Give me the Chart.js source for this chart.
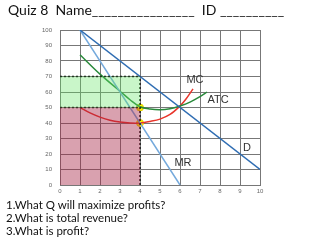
<!DOCTYPE html>
<html>
<head>
<meta charset="utf-8">
<script src="https://cdn.jsdelivr.net/npm/chart.js@4/dist/chart.umd.min.js"></script>
<style>
  html, body { margin: 0; padding: 0; background: #fff; }
  #wrap { position: relative; width: 320px; height: 240px; overflow: hidden; }
  #chart { position: absolute; left: 0; top: 0; }
  .title { position: absolute; left: 8px; top: 1px; font: 14px Lato, sans-serif; color: #111; white-space: pre; }
  .qs { position: absolute; left: 6px; top: 198px; font: 11.5px Lato, sans-serif; color: #111; line-height: 13px; }
</style>
</head>
<body>
<div id="wrap">
  <canvas id="chart" width="320" height="240"></canvas>
  <div class="title">Quiz 8  Name________________  ID __________</div>
  <div class="qs">1.What Q will maximize profits?<br>2.What is total revenue?<br>3.What is profit?</div>
</div>
<script>
// valores
const demandQ = [1, 10];
const demandP = [100, 10];
const mrQ = [1, 6];
const mrP = [100, 0];
const atcQ = [1, 2, 3, 3.5, 4, 4.5, 5, 5.5, 6, 6.5, 7, 7.35];
const atcP = [84, 71.5, 60.5, 55, 50.5, 49, 48.5, 49.2, 51, 53.5, 57, 60];
const mcQ = [1, 1.5, 2, 2.5, 3, 3.5, 4, 4.5, 5, 5.5, 6, 6.3, 6.65];
const mcP = [50, 46.5, 43.8, 41.8, 40.6, 40, 40, 41, 42.5, 45.5, 51, 55.5, 62];
const qStar = 4;
const priceStar = 70;
const atcStar = 50;
const mcStar = 40;

const pts = (xs, ys) => xs.map((x, i) => ({ x: x, y: ys[i] }));

// rótulos das curvas
const curveLabels = [
    { text: "MC", x: 6.75, y: 68 },
    { text: "ATC", x: 7.9, y: 55 },
    { text: "D", x: 9.35, y: 24 },
    { text: "MR", x: 6.15, y: 14 },
];

const labelPlugin = {
    id: "curveLabels",
    afterDatasetsDraw(chart) {
        const { ctx, scales } = chart;
        ctx.save();
        ctx.font = "11px 'Liberation Sans', Arial, sans-serif";
        ctx.fillStyle = "#333";
        ctx.textAlign = "center";
        ctx.textBaseline = "middle";
        curveLabels.forEach(l => {
            ctx.fillText(l.text, scales.x.getPixelForValue(l.x), scales.y.getPixelForValue(l.y));
        });
        ctx.restore();
    },
};

const dotted = { borderColor: "#111", borderWidth: 1.5, borderDash: [2, 2], pointRadius: 0, fill: false };

new Chart(document.getElementById("chart"), {
    type: "line",
    data: {
        datasets: [
            {
                data: pts([0, qStar], [priceStar, priceStar]),
                borderWidth: 0, pointRadius: 0,
                backgroundColor: "rgba(100,230,100,0.35)",
                fill: { value: atcStar },
            },
            {
                data: pts([0, qStar], [atcStar, atcStar]),
                borderWidth: 0, pointRadius: 0,
                backgroundColor: "rgba(165,30,65,0.42)",
                fill: "origin",
            },
            { ...dotted, data: pts([0, qStar], [priceStar, priceStar]) },
            { ...dotted, data: pts([0, qStar], [atcStar, atcStar]) },
            { ...dotted, data: pts([qStar, qStar], [0, priceStar]) },
            { data: pts(demandQ, demandP), borderColor: "#2f6db3", borderWidth: 1.5, pointRadius: 0 },
            { data: pts(mrQ, mrP), borderColor: "#74a9dc", borderWidth: 1.5, pointRadius: 0 },
            { data: pts(atcQ, atcP), borderColor: "#2a8a3c", borderWidth: 1.5, pointRadius: 0, tension: 0.35 },
            { data: pts(mcQ, mcP), borderColor: "#e8352b", borderWidth: 1.5, pointRadius: 0, tension: 0.35 },
            {
                type: "scatter",
                data: pts([qStar, qStar], [atcStar, mcStar]),
                pointRadius: 3.5, backgroundColor: "#fff200", borderColor: "#e6d200", borderWidth: 1,
            },
        ],
    },
    options: {
        responsive: false,
        animation: false,
        layout: { padding: { top: 30, right: 60, left: 0, bottom: 0 } },
        plugins: { legend: { display: false }, tooltip: { enabled: false } },
        scales: {
            x: {
                type: "linear", min: 0, max: 10,
                ticks: { stepSize: 1, font: { size: 6 }, color: "#666", padding: 3 },
                grid: { color: "#777", lineWidth: 1, drawTicks: false },
                border: { color: "#777" },
                afterFit: s => { s.height = 55; },
            },
            y: {
                min: 0, max: 100,
                ticks: { stepSize: 10, font: { size: 6 }, color: "#666", padding: 8 },
                grid: { color: "#777", lineWidth: 1, drawTicks: false },
                border: { color: "#777" },
                afterFit: s => { s.width = 60; },
            },
        },
    },
    plugins: [labelPlugin],
});
</script>
</body>
</html>
